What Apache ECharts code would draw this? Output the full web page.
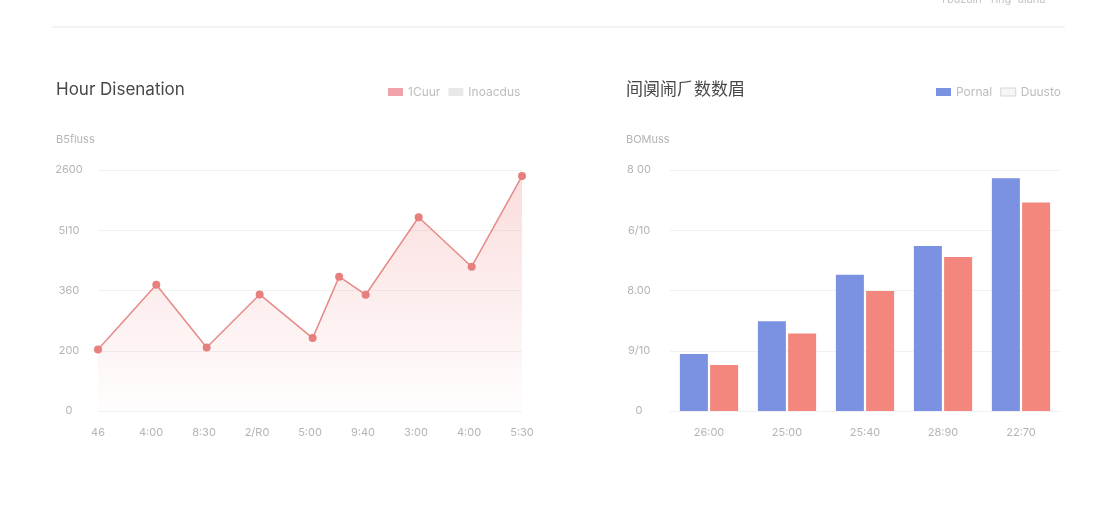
<!DOCTYPE html>
<html>
<head>
<meta charset="utf-8">
<script src="https://cdn.jsdelivr.net/npm/echarts@6/dist/echarts.min.js"></script>
<style>
html,body{margin:0;padding:0;background:#fff;}
#c{width:1120px;height:512px;}
</style>
</head>
<body>
<div id="c"></div>
<script>
// ---- data ----
const lineTickLabels = ['46', '4:00', '8:30', '2/R0', '5:00', '9:40', '3:00', '4:00', '5:30'];
const lineX = [0, 1.1, 2.05, 3.05, 4.05, 4.55, 5.05, 6.05, 7.05, 8];
const lineY = [204, 419, 211, 387, 242, 446, 386, 643, 479, 780];
const leftYLabels = ['0', '200', '360', '5l10', '2600'];

const barCategories = ['26:00', '25:00', '25:40', '28:90', '22:70'];
const barBlue = [189, 298, 452, 548, 773];
const barRed = [153, 257, 398, 511, 692];
const rightYLabels = ['0', '9/10', '8.00', '6/10', '8 00'];

const leftTitle = 'Hour Disenation';
const rightTitle = '间阒闹⺁数数眉';
const leftSeriesNames = ['1Cuur', 'Inoacdus'];
const rightSeriesNames = ['Pornal', 'Duusto'];
const leftAxisName = 'B5fluss';
const rightAxisName = 'BOMuss';
const topText = 'Tbuzain · rlng  ulana';

const FONT = 'Inter, "Noto Sans", "Noto Sans CJK SC", sans-serif';
const labelColor = '#b4b4b4';
const gridColor = '#f1f1f1';

const chart = echarts.init(document.getElementById('c'));
chart.setOption({
  backgroundColor: '#ffffff',
  animation: false,
  textStyle: { fontFamily: FONT },
  graphic: [
    { type: 'line', shape: { x1: 52, y1: 27, x2: 1065, y2: 27 }, style: { stroke: '#efefef', lineWidth: 1.5 } },
    { type: 'text', left: 940, top: -6, style: { text: topText, fill: '#c4c4c4', font: '11px ' + FONT } },
    { type: 'text', left: 56, top: 81, style: { text: leftTitle, fill: '#474747', font: '17px ' + FONT } },
    { type: 'text', left: 626, top: 80, style: { text: rightTitle, fill: '#474747', font: '17px "Noto Sans CJK SC", sans-serif' } },
    { type: 'text', left: 56, top: 134, style: { text: leftAxisName, fill: labelColor, font: '11px ' + FONT } },
    { type: 'text', left: 626, top: 134, style: { text: rightAxisName, fill: labelColor, font: '11px ' + FONT } }
  ],
  legend: [
    {
      data: [
        { name: leftSeriesNames[0], itemStyle: { color: '#f0a4aa' } },
        { name: leftSeriesNames[1], itemStyle: { color: '#e8e8e8' } }
      ],
      left: 383, top: 81, itemWidth: 15, itemHeight: 8, itemGap: 8,
      icon: 'rect', textStyle: { color: '#bdbdbd', fontSize: 12, fontFamily: FONT }
    },
    {
      data: [
        { name: rightSeriesNames[0], itemStyle: { color: '#7b91e2' } },
        { name: rightSeriesNames[1], itemStyle: { color: '#f6f6f6', borderColor: '#d6d6d6', borderWidth: 1 } }
      ],
      left: 931, top: 81, itemWidth: 15, itemHeight: 8, itemGap: 8,
      icon: 'rect', textStyle: { color: '#bdbdbd', fontSize: 12, fontFamily: FONT }
    }
  ],
  grid: [
    { left: 98, width: 424, top: 170, height: 241 },
    { left: 670, width: 390, top: 170, height: 241 }
  ],
  xAxis: [
    {
      type: 'value', gridIndex: 0, min: 0, max: 8, interval: 1,
      axisLine: { show: false }, axisTick: { show: false }, splitLine: { show: false },
      axisLabel: {
        color: labelColor, fontSize: 11, margin: 16,
        formatter: v => lineTickLabels[Math.round(v)] ?? ''
      }
    },
    {
      type: 'category', gridIndex: 1, data: barCategories,
      axisLine: { show: false }, axisTick: { show: false },
      axisLabel: { color: labelColor, fontSize: 11, margin: 16 }
    }
  ],
  yAxis: [
    {
      type: 'value', gridIndex: 0, min: 0, max: 800, interval: 200,
      axisLine: { show: false }, axisTick: { show: false },
      splitLine: { lineStyle: { color: gridColor } },
      axisLabel: {
        color: labelColor, fontSize: 11, align: 'center', margin: 29,
        formatter: v => leftYLabels[Math.round(v / 200)] ?? ''
      }
    },
    {
      type: 'value', gridIndex: 1, min: 0, max: 800, interval: 200,
      axisLine: { show: false }, axisTick: { show: false },
      splitLine: { lineStyle: { color: gridColor } },
      axisLabel: {
        color: labelColor, fontSize: 11, align: 'center', margin: 31,
        formatter: v => rightYLabels[Math.round(v / 200)] ?? ''
      }
    }
  ],
  series: [
    {
      name: leftSeriesNames[0], type: 'line', xAxisIndex: 0, yAxisIndex: 0,
      data: lineX.map((x, i) => [x, lineY[i]]),
      symbol: 'circle', symbolSize: 8,
      itemStyle: { color: '#e67f7e' },
      lineStyle: { color: '#e48a88', width: 1.5 },
      areaStyle: {
        color: new echarts.graphic.LinearGradient(0, 0, 0, 1, [
          { offset: 0, color: 'rgba(240,140,140,0.42)' },
          { offset: 1, color: 'rgba(240,140,140,0.02)' }
        ])
      }
    },
    {
      name: leftSeriesNames[1], type: 'line', xAxisIndex: 0, yAxisIndex: 0, data: [],
      itemStyle: { color: '#e8e8e8' }
    },
    {
      name: rightSeriesNames[0], type: 'bar', xAxisIndex: 1, yAxisIndex: 1, data: barBlue,
      barWidth: 28, barGap: '8%',
      itemStyle: { color: '#7b91e2' }
    },
    {
      name: rightSeriesNames[1], type: 'bar', xAxisIndex: 1, yAxisIndex: 1, data: barRed,
      barWidth: 28, barGap: '8%',
      itemStyle: { color: '#f3877d' }
    }
  ]
});
</script>
</body>
</html>
